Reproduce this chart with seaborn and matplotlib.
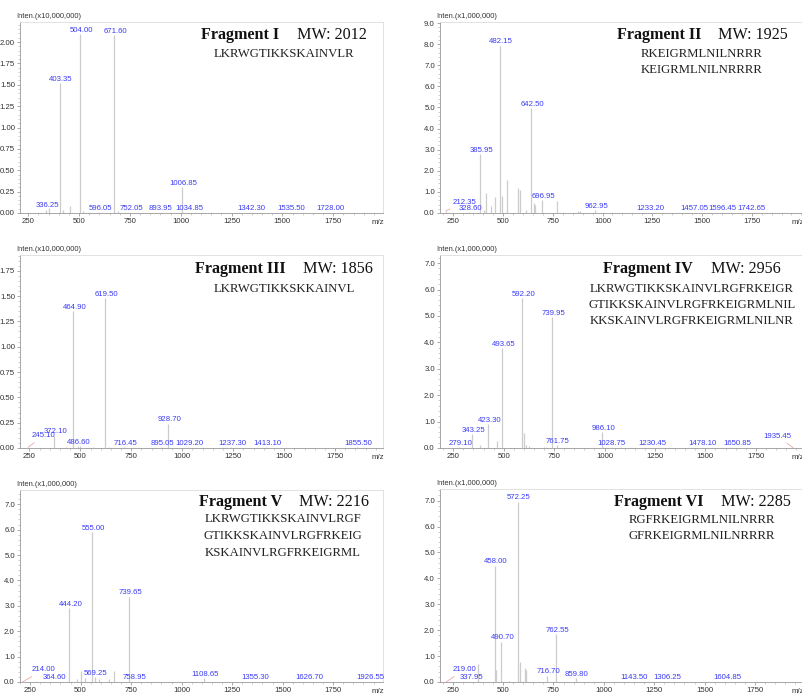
import seaborn as sns
import matplotlib.pyplot as plt
from matplotlib.ticker import MultipleLocator, AutoMinorLocator, FormatStrFormatter

sns.set_style('white')
plt.rcParams['font.family'] = ['Liberation Sans', 'DejaVu Sans']

# ---------------- data (labelled peaks + small unlabelled peaks) ----------------
# Fragment I  (x10,000,000)
f1_mz = [336.25, 403.35, 504.00, 596.05, 671.60, 752.05, 893.95, 1006.85, 1034.85, 1342.30, 1535.50, 1728.00]
f1_int = [0.04, 1.52, 2.09, 0.005, 2.08, 0.005, 0.005, 0.30, 0.005, 0.004, 0.004, 0.004]
f1_small_mz = [350, 421, 455, 520, 690]
f1_small_int = [0.06, 0.03, 0.08, 0.02, 0.02]
f1_seq = ['LKRWGTIKKSKAINVLR']

# Fragment II  (x1,000,000)
f2_mz = [212.35, 328.60, 385.95, 482.15, 642.50, 696.95, 962.95, 1233.20, 1457.05, 1596.45, 1742.65]
f2_int = [0.10, 0.05, 2.78, 7.93, 4.96, 0.60, 0.14, 0.02, 0.02, 0.02, 0.02]
f2_small_mz = [402, 415, 437, 461, 494, 522, 577, 584, 615, 655, 662, 772, 875, 885]
f2_small_int = [0.15, 0.95, 0.35, 0.75, 0.82, 1.58, 1.18, 1.10, 0.15, 0.46, 0.40, 0.58, 0.10, 0.08]
f2_seq = ['RKEIGRMLNILNRRR', 'KEIGRMLNILNRRRR']

# Fragment III  (x10,000,000)
f3_mz = [245.10, 372.10, 464.90, 486.60, 619.50, 716.45, 895.05, 928.70, 1029.20, 1237.30, 1413.10, 1855.50]
f3_int = [0.01, 0.12, 1.35, 0.02, 1.48, 0.01, 0.01, 0.24, 0.005, 0.005, 0.005, 0.005]
f3_small_mz = [430, 500, 560, 640]
f3_small_int = [0.01, 0.015, 0.01, 0.01]
f3_seq = ['LKRWGTIKKSKKAINVL']

# Fragment IV  (x1,000,000)
f4_mz = [279.10, 343.25, 423.30, 493.65, 592.20, 739.95, 761.75, 986.10, 1028.75, 1230.45, 1478.10, 1650.85, 1935.45]
f4_int = [0.03, 0.53, 0.90, 3.78, 5.67, 4.95, 0.10, 0.60, 0.01, 0.01, 0.01, 0.01, 0.01]
f4_small_mz = [383, 466, 600, 612, 625, 700]
f4_small_int = [0.10, 0.25, 0.57, 0.12, 0.08, 0.05]
f4_seq = ['LKRWGTIKKSKAINVLRGFRKEIGR', 'GTIKKSKAINVLRGFRKEIGRMLNIL', 'KKSKAINVLRGFRKEIGRMLNILNR']

# Fragment V  (x1,000,000)
f5_mz = [214.00, 364.60, 444.20, 555.00, 569.25, 739.65, 758.95, 1108.65, 1355.30, 1626.70, 1926.55]
f5_int = [0.01, 0.01, 2.90, 5.89, 0.18, 3.36, 0.01, 0.15, 0.01, 0.01, 0.01]
f5_small_mz = [480, 501, 520, 590, 640, 667]
f5_small_int = [0.10, 0.45, 0.15, 0.10, 0.10, 0.43]
f5_seq = ['LKRWGTIKKSKAINVLRGF', 'GTIKKSKAINVLRGFRKEIG', 'KSKAINVLRGFRKEIGRML']

# Fragment VI  (x1,000,000)
f6_mz = [219.00, 337.95, 458.00, 490.70, 572.25, 716.70, 762.55, 859.80, 1143.50, 1306.25, 1604.85]
f6_int = [0.01, 0.01, 4.49, 1.56, 6.96, 0.24, 1.84, 0.14, 0.01, 0.01, 0.01]
f6_small_mz = [378, 466, 531, 586, 607, 612]
f6_small_int = [0.68, 0.46, 0.05, 0.78, 0.53, 0.45]
f6_seq = ['RGFRKEIGRMLNILNRRR', 'GFRKEIGRMLNILNRRRR']

panels = [
    dict(mz=f1_mz, inten=f1_int, smz=f1_small_mz, sint=f1_small_int, seq=f1_seq,
         scale='Inten.(x10,000,000)', name='Fragment I', mw='MW: 2012'),
    dict(mz=f2_mz, inten=f2_int, smz=f2_small_mz, sint=f2_small_int, seq=f2_seq,
         scale='Inten.(x1,000,000)', name='Fragment II', mw='MW: 1925'),
    dict(mz=f3_mz, inten=f3_int, smz=f3_small_mz, sint=f3_small_int, seq=f3_seq,
         scale='Inten.(x10,000,000)', name='Fragment III', mw='MW: 1856'),
    dict(mz=f4_mz, inten=f4_int, smz=f4_small_mz, sint=f4_small_int, seq=f4_seq,
         scale='Inten.(x1,000,000)', name='Fragment IV', mw='MW: 2956'),
    dict(mz=f5_mz, inten=f5_int, smz=f5_small_mz, sint=f5_small_int, seq=f5_seq,
         scale='Inten.(x1,000,000)', name='Fragment V', mw='MW: 2216'),
    dict(mz=f6_mz, inten=f6_int, smz=f6_small_mz, sint=f6_small_int, seq=f6_seq,
         scale='Inten.(x1,000,000)', name='Fragment VI', mw='MW: 2285'),
]

# ---------------- layout (pixels in the 802x693 figure) ----------------
W, H = 802, 693
layout = [
    dict(box=(20, 22, 383, 213), xlim=(209, 1995), ylim=(0, 2.234), step=0.25, fmt='%.2f',
         tsplit=(279, 297), tbase=39, scx=284, sbase=[57]),
    dict(box=(440, 22, 803, 213), xlim=(183, 2008), ylim=(0, 9.05), step=1.0, fmt='%.1f',
         tsplit=(701, 718), tbase=39, scx=702, sbase=[57, 73]),
    dict(box=(20, 255, 383, 448), xlim=(204, 1985), ylim=(0, 1.905), step=0.25, fmt='%.2f',
         tsplit=(286, 303), tbase=273, scx=284, sbase=[292]),
    dict(box=(440, 255, 803, 448), xlim=(184, 1984), ylim=(0, 7.31), step=1.0, fmt='%.1f',
         tsplit=(693, 711), tbase=273, scx=692, sbase=[292, 308, 324]),
    dict(box=(20, 490, 383, 682), xlim=(200, 1997), ylim=(0, 7.56), step=1.0, fmt='%.1f',
         tsplit=(282, 299), tbase=506, scx=283, sbase=[522, 539, 556]),
    dict(box=(440, 489, 803, 682), xlim=(187, 1988), ylim=(0, 7.45), step=1.0, fmt='%.1f',
         tsplit=(704, 721), tbase=506, scx=702, sbase=[523, 539]),
]

# labels that are pushed away from their peak (text position in data units)
moved = [
    {},
    {212.35: (305, 0.35)},
    {245.10: (319, 0.085)},
    {1935.45: (1858, 0.30)},
    {214.00: (316, 0.34)},
    {219.00: (307, 0.34)},
]

stick_col = '#cccccc'
label_col = '#3b3bf5'
lead_col = '#f2a6a6'
tick_col = '#333333'
serif = ['Liberation Serif', 'DejaVu Serif']

fig = plt.figure(figsize=(W / 100, H / 100), dpi=100)
fig.patch.set_facecolor('white')

for p, lay, mv in zip(panels, layout, moved):
    l, t, r, b = lay['box']
    ax = fig.add_axes([l / W, 1 - b / H, (r - l) / W, (b - t) / H])
    ax.set_facecolor('white')

    ax.vlines(p['smz'], 0, p['sint'], color=stick_col, lw=0.9)
    ax.vlines(p['mz'], 0, p['inten'], color=stick_col, lw=0.9)

    for m, h in zip(p['mz'], p['inten']):
        txt = f'{m:.2f}'
        if m in mv:
            ax.annotate(txt, xy=(m, h), xytext=mv[m], textcoords='data',
                        ha='center', va='bottom', fontsize=5.6, color=label_col,
                        arrowprops=dict(arrowstyle='-', color=lead_col, lw=0.6,
                                        shrinkA=0, shrinkB=0))
        else:
            ax.annotate(txt, xy=(m, h), xytext=(1.0, 0.3), textcoords='offset points',
                        ha='center', va='bottom', fontsize=5.6, color=label_col)

    ax.set_xlim(*lay['xlim'])
    ax.set_ylim(*lay['ylim'])
    ax.set_xticks([250, 500, 750, 1000, 1250, 1500, 1750])
    ax.xaxis.set_minor_locator(AutoMinorLocator(5))
    ax.yaxis.set_major_locator(MultipleLocator(lay['step']))
    ax.yaxis.set_minor_locator(AutoMinorLocator(5))
    ax.yaxis.set_major_formatter(FormatStrFormatter(lay['fmt']))
    ax.tick_params(axis='both', which='major', direction='out', length=2.2, width=0.5,
                   color='#888888', labelsize=5.6, labelcolor=tick_col, pad=1.5)
    ax.tick_params(axis='both', which='minor', direction='out', length=1.2, width=0.4,
                   color='#aaaaaa')
    ax.tick_params(axis='y', which='both', left=True)
    ax.tick_params(axis='x', which='both', bottom=True)
    for side, sp in ax.spines.items():
        sp.set_linewidth(0.6)
        sp.set_color('#dddddd' if side in ('top', 'right') else '#999999')

    ax.annotate(p['scale'], xy=(0, 1), xycoords='axes fraction', xytext=(-2.5, 1.5),
                textcoords='offset points', ha='left', va='bottom', fontsize=5.4,
                color=tick_col)
    ax.annotate('m/z', xy=(1, 0), xycoords='axes fraction', xytext=(-4, -4.2),
                textcoords='offset points', ha='center', va='top', fontsize=5.6,
                color=tick_col)

    # title and peptide sequences
    be, ms = lay['tsplit']
    fig.text(be / W, 1 - lay['tbase'] / H, p['name'], ha='right', va='baseline',
             family=serif, fontweight='bold', fontsize=11.6, color='#111111')
    fig.text(ms / W, 1 - lay['tbase'] / H, p['mw'], ha='left', va='baseline',
             family=serif, fontsize=11.6, color='#111111')
    for s, yb in zip(p['seq'], lay['sbase']):
        fig.text(lay['scx'] / W, 1 - yb / H, s, ha='center', va='baseline',
                 family=serif, fontsize=9.2, color='#222222')

fig.savefig('out.png', dpi=100, facecolor='white')
